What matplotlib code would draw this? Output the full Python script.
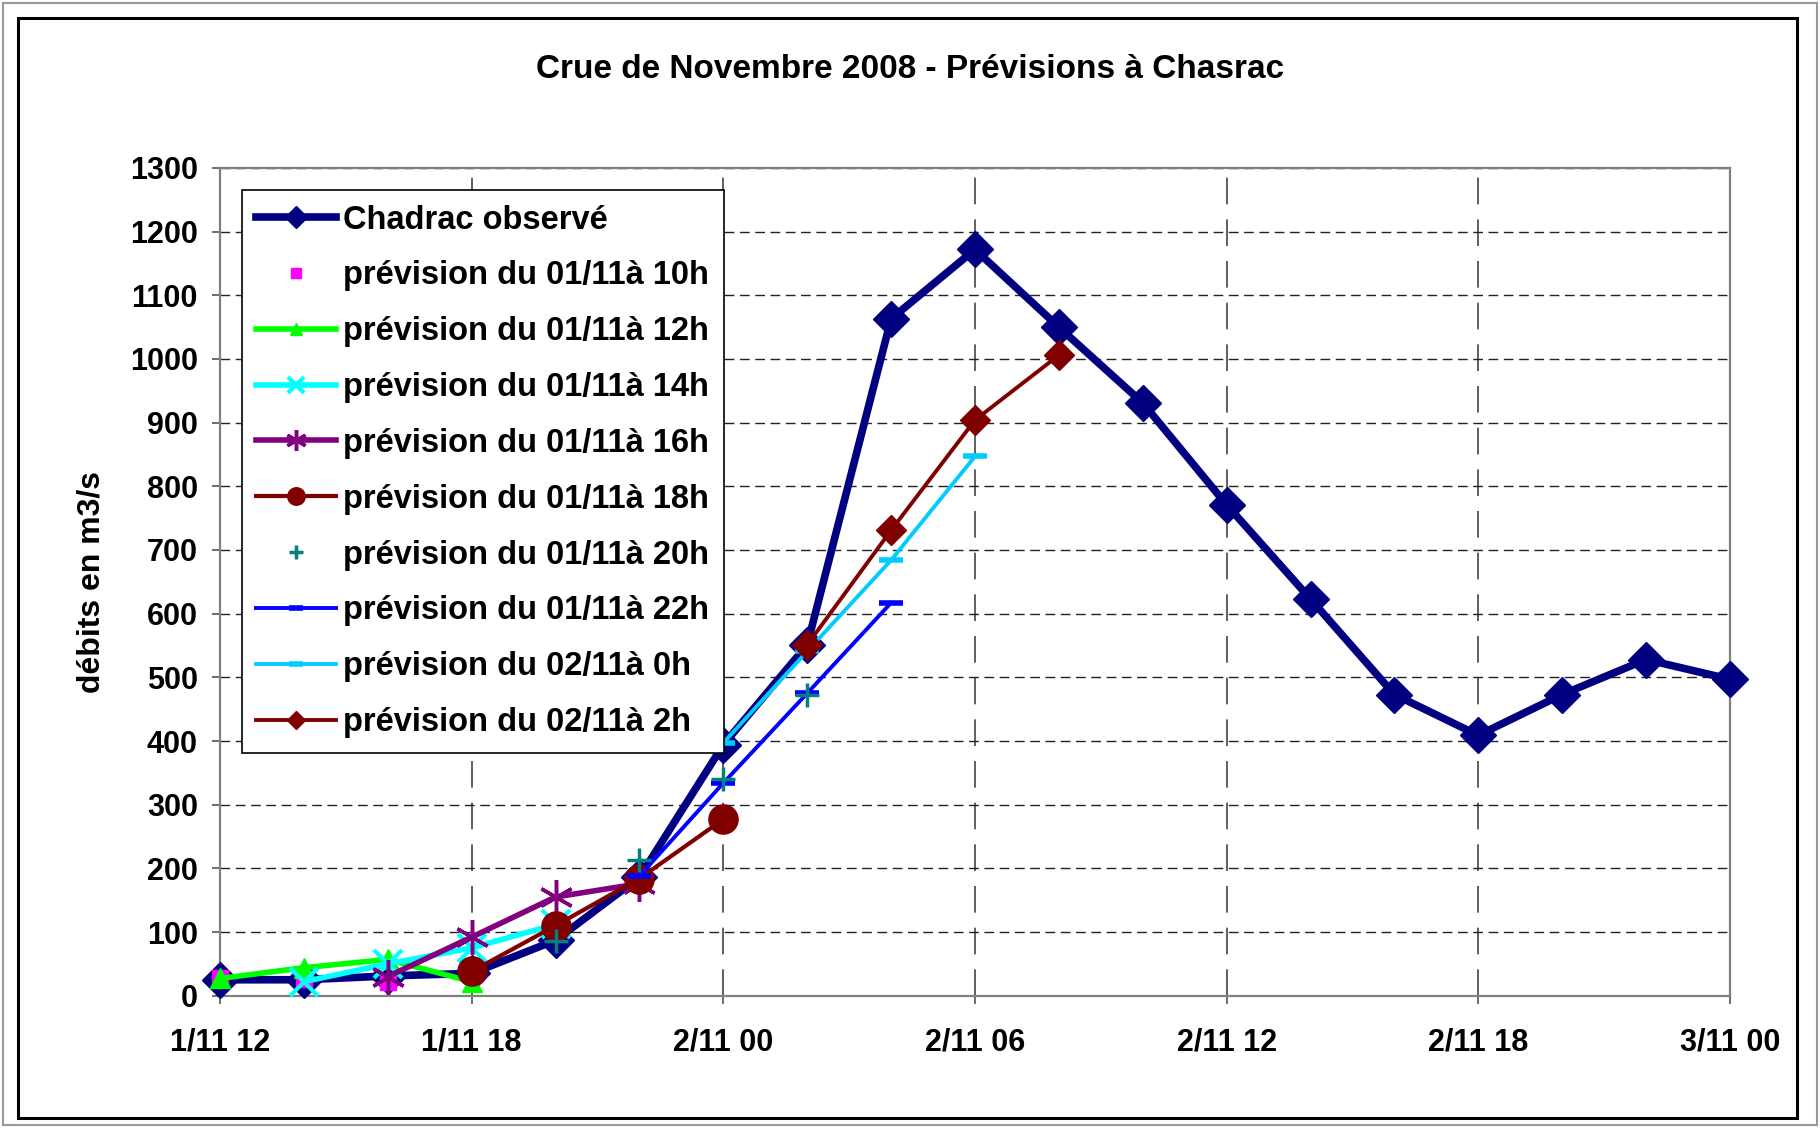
import matplotlib
matplotlib.use("Agg")
import matplotlib.pyplot as plt
from matplotlib.patches import Rectangle

plt.rcParams['font.family'] = ['Liberation Sans', 'DejaVu Sans']
plt.rcParams['font.weight'] = 'bold'

# hours counted from 1/11 00h
hours_obs = [12, 14, 16, 18, 20, 22, 24, 26, 28, 30, 32, 34, 36, 38, 40, 42, 44, 46, 48]
chadrac_obs = [25, 25, 31, 35, 87, 186, 394, 551, 1063, 1172, 1050, 931, 771, 623, 473, 409, 473, 528, 497]

prev_10h_t = [12, 14, 16]
prev_10h = [27, 26, 22]
prev_12h_t = [12, 14, 16, 18]
prev_12h = [27, 44, 57, 22]
prev_14h_t = [14, 16, 18, 20]
prev_14h = [22, 50, 75, 112]
prev_16h_t = [16, 18, 20, 22]
prev_16h = [30, 92, 155, 176]
prev_18h_t = [18, 20, 22, 24]
prev_18h = [38, 110, 184, 277]
prev_20h_t = [20, 22, 24, 26]
prev_20h = [86, 213, 340, 473]
prev_22h_t = [22, 24, 26, 28]
prev_22h = [188, 334, 475, 617]
prev_0h_t = [24, 26, 28, 30]
prev_0h = [397, 541, 684, 847]
prev_2h_t = [26, 28, 30, 32]
prev_2h = [551, 731, 904, 1006]

tick_hours = [12, 18, 24, 30, 36, 42, 48]
tick_labels = ['1/11 12', '1/11 18', '2/11 00', '2/11 06', '2/11 12', '2/11 18', '3/11 00']

fig = plt.figure(figsize=(18.2, 11.28), dpi=100)
ax = fig.add_axes([0.1209, 0.1173, 0.8296, 0.7338])

ax.plot(hours_obs, chadrac_obs, color='#000080', lw=5.5, marker='D', ms=18,
        label='Chadrac observé', zorder=3, clip_on=False)
ax.plot(prev_10h_t, prev_10h, ls='none', marker='s', ms=12, color='#FF00FF',
        label='prévision du 01/11à 10h', zorder=4, clip_on=False)
ax.plot(prev_12h_t, prev_12h, color='#00FF00', lw=4, marker='^', ms=14,
        label='prévision du 01/11à 12h', zorder=4, clip_on=False)
ax.plot(prev_14h_t, prev_14h, color='#00FFFF', lw=4, marker='x', ms=20, mew=3,
        label='prévision du 01/11à 14h', zorder=4, clip_on=False)
ax.plot(prev_16h_t, prev_16h, color='#800080', lw=4, marker=(6, 2, 0), ms=25, mew=2.5,
        label='prévision du 01/11à 16h', zorder=4, clip_on=False)
ax.plot(prev_18h_t, prev_18h, color='#800000', lw=3, marker='o', ms=21,
        label='prévision du 01/11à 18h', zorder=4, clip_on=False)
ax.plot(prev_20h_t, prev_20h, ls='none', marker='+', ms=17, mew=2.5, color='#008080',
        label='prévision du 01/11à 20h', zorder=5, clip_on=False)
ax.plot(prev_22h_t, prev_22h, color='#0000FF', lw=2.8, marker='_', ms=17, mew=4,
        label='prévision du 01/11à 22h', zorder=4, clip_on=False)
ax.plot(prev_0h_t, prev_0h, color='#00CCFF', lw=2.8, marker='_', ms=17, mew=4,
        label='prévision du 02/11à 0h', zorder=4, clip_on=False)
ax.plot(prev_2h_t, prev_2h, color='#800000', lw=2.8, marker='D', ms=15,
        label='prévision du 02/11à 2h', zorder=4, clip_on=False)

ax.set_xlim(12, 48)
ax.set_ylim(0, 1300)
ax.set_xticks(tick_hours)
ax.set_xticklabels(tick_labels)
ax.set_yticks(range(0, 1301, 100))

ax.set_axisbelow(True)
ax.grid(axis='y', color='#222222', ls=(0, (7, 4)), lw=1)
ax.grid(axis='x', color='#444444', ls=(0, (16, 9)), lw=1.2)

for sp in ax.spines.values():
    sp.set_color('#808080')
    sp.set_linewidth(1.6)

ax.tick_params(axis='both', direction='out', length=6, width=1.2, color='#555555', labelsize=22)
ax.tick_params(axis='x', pad=17)
ax.tick_params(axis='y', pad=10)

ax.set_ylabel('débits en m3/s', fontsize=23, fontweight='bold')
ax.yaxis.set_label_coords(-0.075, 0.5)

fig.text(0.5, 1 - 70 / 1128, 'Crue de Novembre 2008 - Prévisions à Chasrac',
         ha='center', va='center', fontsize=24, fontweight='bold')

leg = ax.legend(loc='upper left', bbox_to_anchor=(241.7 / 1820, 1 - 190 / 1128),
                bbox_transform=fig.transFigure, fontsize=23.5, frameon=True, fancybox=False,
                edgecolor='black', framealpha=1, handlelength=2.45, handletextpad=0.2,
                labelspacing=0.76, borderpad=0.45, borderaxespad=0, markerscale=0.6)
leg.get_frame().set_linewidth(1.2)
leg.set_zorder(10)

fig.patches.append(Rectangle((3 / 1820, 3 / 1128), 1814 / 1820, 1122 / 1128,
                             transform=fig.transFigure, fill=False, ec='#999999', lw=1.5))
fig.patches.append(Rectangle((18 / 1820, 10 / 1128), 1779 / 1820, 1100 / 1128,
                             transform=fig.transFigure, fill=False, ec='black', lw=2.2))

fig.savefig('out.png', dpi=100)
